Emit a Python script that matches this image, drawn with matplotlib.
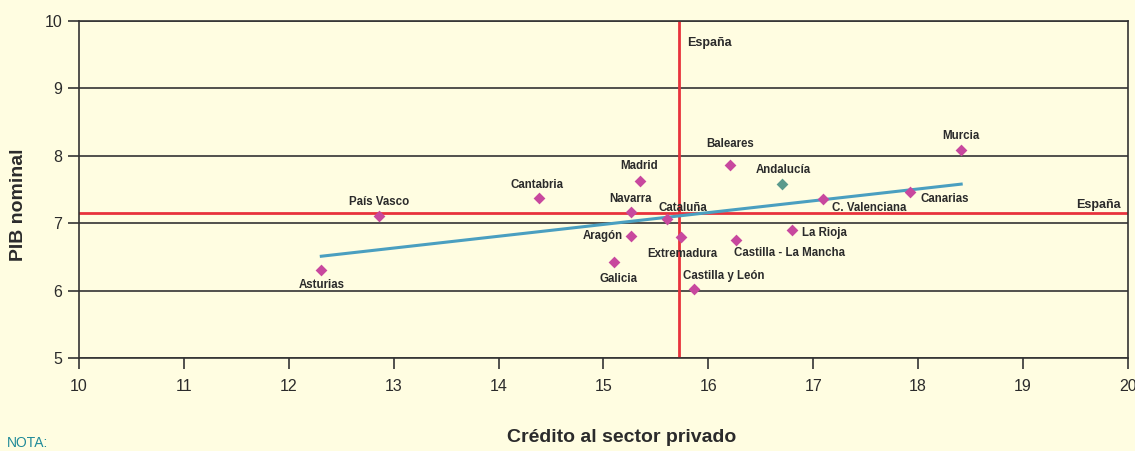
import matplotlib
matplotlib.use("Agg")
import matplotlib.pyplot as plt
import numpy as np

# regiones: credito al sector privado (x) vs PIB nominal (y)
regions = ["Asturias", "País Vasco", "Cantabria", "Madrid", "Navarra", "Aragón",
           "Galicia", "Cataluña", "Extremadura", "Castilla y León", "Baleares",
           "Castilla - La Mancha", "La Rioja", "C. Valenciana", "Canarias", "Murcia"]
credit = [12.31, 12.86, 14.39, 15.35, 15.26, 15.26, 15.10, 15.61, 15.74, 15.86,
          16.21, 16.26, 16.80, 17.09, 17.92, 18.41]
gdp = [6.30, 7.10, 7.38, 7.62, 7.17, 6.81, 6.42, 7.06, 6.80, 6.03,
       7.86, 6.75, 6.90, 7.36, 7.47, 8.08]

andalucia_x = [16.70]
andalucia_y = [7.58]

espana_x = 15.72
espana_y = 7.15

trend_x = [12.31, 18.41]
trend_y = [6.51, 7.58]

# label offsets in points (dx, dy, ha, va)
offsets = {
    "Asturias": (0, -6.5, "center", "top"),
    "País Vasco": (0, 6, "center", "bottom"),
    "Cantabria": (-2, 5, "center", "bottom"),
    "Madrid": (-1, 7, "center", "bottom"),
    "Navarra": (0, 5, "center", "bottom"),
    "Aragón": (-6, 0, "right", "center"),
    "Galicia": (3, -8, "center", "top"),
    "Cataluña": (11, 4, "center", "bottom"),
    "Extremadura": (1, -8, "center", "top"),
    "Castilla y León": (22, 5, "center", "bottom"),
    "Baleares": (0, 11, "center", "bottom"),
    "Castilla - La Mancha": (-1, -5, "left", "top"),
    "La Rioja": (7, -2, "left", "center"),
    "C. Valenciana": (7, -2, "left", "top"),
    "Canarias": (8, -1, "left", "top"),
    "Murcia": (0, 6, "center", "bottom"),
}

bg = "#fffde1"
txt = "#2b2b2b"
plt.rcParams['font.family'] = ['Liberation Sans', 'DejaVu Sans']

fig = plt.figure(figsize=(11.35, 4.51), dpi=100, facecolor=bg)
ax = fig.add_axes([0.0696, 0.2062, 0.9242, 0.7472])
ax.set_facecolor(bg)

ax.set_xlim(10, 20)
ax.set_ylim(5, 10)
ax.set_xticks(range(10, 21))
ax.set_yticks(range(5, 11))
ax.yaxis.grid(True, color="#333333", linewidth=1.2)
ax.set_axisbelow(True)
ax.tick_params(axis="both", colors="#333333", labelcolor=txt, labelsize=11.5,
               length=8, width=1.2, direction="out")
ax.tick_params(axis="x", pad=7)
ax.tick_params(axis="y", pad=4)
for s in ax.spines.values():
    s.set_color("#333333")
    s.set_linewidth(1.2)

ax.axvline(espana_x, color="#e8323c", linewidth=2, zorder=2)
ax.axhline(espana_y, color="#e8323c", linewidth=2, zorder=2)
ax.plot(trend_x, trend_y, color="#4a9fc0", linewidth=2.2, zorder=3)

ax.scatter(credit, gdp, marker="D", s=36, color="#c8489e", zorder=4, linewidths=0)
ax.scatter(andalucia_x, andalucia_y, marker="D", s=36, color="#5a9a8c", zorder=4, linewidths=0)

for name, x, y in zip(regions, credit, gdp):
    dx, dy, ha, va = offsets[name]
    ax.annotate(name, (x, y), xytext=(dx, dy), textcoords="offset points",
                ha=ha, va=va, fontsize=8.3, fontweight="bold", color=txt, zorder=5)
ax.annotate("Andalucía", (andalucia_x[0], andalucia_y[0]), xytext=(1, 6),
            textcoords="offset points", ha="center", va="bottom",
            fontsize=8.3, fontweight="bold", color=txt, zorder=5)

ax.annotate("España", (espana_x, 10), xytext=(6, -16), textcoords="offset points",
            ha="left", va="center", fontsize=9, fontweight="bold", color=txt)
ax.annotate("España", (20, espana_y), xytext=(-5, 6), textcoords="offset points",
            ha="right", va="center", fontsize=9, fontweight="bold", color=txt)

fig.text(622 / 1135, 1 - 438 / 451, "Crédito al sector privado", fontsize=14,
         fontweight="bold", color=txt, ha="center", va="center")
fig.text(19 / 1135, 1 - 205 / 451, "PIB nominal", fontsize=14, fontweight="bold",
         color=txt, ha="center", va="center", rotation=90)

fig.text(0.006, 0.003, "NOTA:", fontsize=10, color="#1f8a99", ha="left", va="bottom")

fig.savefig("out.png", dpi=100, facecolor=bg)
